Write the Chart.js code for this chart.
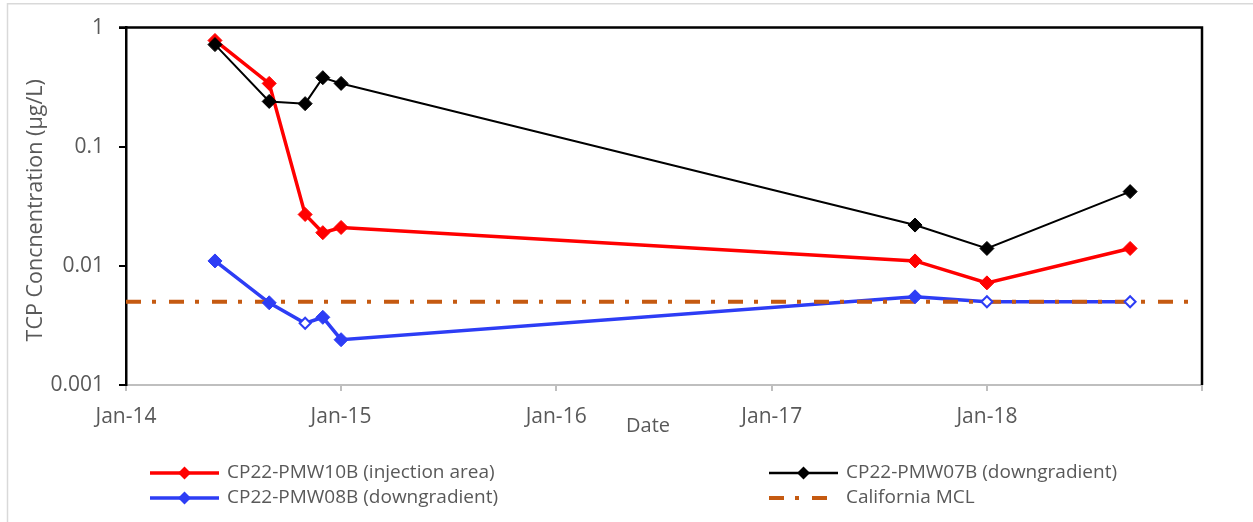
<!DOCTYPE html>
<html>
<head>
<meta charset="utf-8">
<script src="https://cdn.jsdelivr.net/npm/chart.js@4/dist/chart.umd.min.js"></script>
<style>
  html, body { margin: 0; padding: 0; background: #fff; }
  #wrap { position: relative; width: 1253px; height: 522px; }
  canvas { display: block; }
</style>
</head>
<body>
<div id="wrap"><canvas id="c" width="1253" height="522"></canvas></div>
<script>
// ---- Data ----
const sampleDates = ['2014-06-01', '2014-09-01', '2014-11-01', '2014-12-01', '2015-01-01', '2017-09-01', '2018-01-01', '2018-09-01'];
const pmw10b = [0.78, 0.34, 0.027, 0.019, 0.021, 0.011, 0.0072, 0.014];
const pmw07b = [0.72, 0.24, 0.23, 0.38, 0.34, 0.022, 0.014, 0.042];
const pmw08b = [0.011, 0.0049, 0.0033, 0.0037, 0.0024, 0.0055, 0.005, 0.005];
const pmw08bNonDetect = [false, false, true, false, false, false, true, true];
const mclValue = 0.005;
const xTickDates = ['2014-01-01', '2015-01-01', '2016-01-01', '2017-01-01', '2018-01-01', '2019-01-01'];
const xTickLabels = ['Jan-14', 'Jan-15', 'Jan-16', 'Jan-17', 'Jan-18', ''];
const yTickValues = [0.001, 0.01, 0.1, 1];
const yTickLabels = ['0.001', '0.01', '0.1', '1'];
const seriesNames = ['CP22-PMW10B (injection area)', 'CP22-PMW07B (downgradient)', 'CP22-PMW08B (downgradient)', 'California MCL'];
const yTitle = 'TCP Concnentration (µg/L)';
const xTitle = 'Date';

// ---- helpers ----
const toMs = s => Date.parse(s + 'T00:00:00Z');
const pts = vals => sampleDates.map((d, i) => ({ x: toMs(d), y: vals[i] }));
const xMin = toMs(xTickDates[0]);
const xMax = toMs(xTickDates[xTickDates.length - 1]);

const RED = '#FF0000', BLACK = '#000000', BLUE = '#2D3DF5', ORANGE = '#C55A11', GRAY = '#595959';
const FONT = "'Open Sans', 'DejaVu Sans', sans-serif";
const MCL_DASH = [15, 11, 4, 13];

const blueFill = pmw08bNonDetect.map(nd => nd ? '#FFFFFF' : BLUE);
const blueRadius = pmw08bNonDetect.map(nd => nd ? 5.5 : 7);
const blueBorderW = pmw08bNonDetect.map(nd => nd ? 2 : 1);

const decorPlugin = {
  id: 'decor',
  beforeDraw(chart) {
    const ctx = chart.ctx;
    ctx.save();
    ctx.fillStyle = '#fff';
    ctx.fillRect(0, 0, chart.width, chart.height);
    // outer chart frame (light gray)
    ctx.strokeStyle = '#D9D9D9';
    ctx.lineWidth = 1.5;
    ctx.beginPath();
    ctx.moveTo(7.5, chart.height);
    ctx.lineTo(7.5, 3.75);
    ctx.lineTo(chart.width, 3.75);
    ctx.stroke();
    ctx.restore();
  },
  afterDraw(chart) {
    const ctx = chart.ctx;
    const a = chart.chartArea;
    ctx.save();
    // top and right border of plot area
    ctx.strokeStyle = '#000';
    ctx.lineWidth = 2.5;
    ctx.beginPath();
    ctx.moveTo(a.left - 7, a.top);
    ctx.lineTo(a.right, a.top);
    ctx.lineTo(a.right, a.bottom);
    ctx.stroke();

    // axis titles
    ctx.fillStyle = GRAY;
    ctx.font = '20px ' + FONT;
    ctx.textAlign = 'center';
    ctx.textBaseline = 'middle';
    ctx.fillText(xTitle, 648, 426);
    ctx.save();
    ctx.translate(36, (a.top + a.bottom) / 2 + 4);
    ctx.rotate(-Math.PI / 2);
    ctx.font = '21.5px ' + FONT;
    ctx.fillText(yTitle, 0, 0);
    ctx.restore();

    // legend
    const items = [
      { name: seriesNames[0], color: RED, lw: 3.5, marker: true, r: 6.5, x: 150, y: 473 },
      { name: seriesNames[1], color: BLACK, lw: 2.5, marker: true, r: 6.5, x: 769, y: 473 },
      { name: seriesNames[2], color: BLUE, lw: 3.5, marker: true, r: 6.5, x: 150, y: 498 },
      { name: seriesNames[3], color: ORANGE, lw: 4, marker: false, dash: true, x: 769, y: 498 }
    ];
    items.forEach(it => {
      ctx.save();
      ctx.strokeStyle = it.color;
      ctx.lineWidth = it.lw;
      if (it.dash) ctx.setLineDash(MCL_DASH);
      ctx.beginPath();
      ctx.moveTo(it.x, it.y);
      ctx.lineTo(it.x + 69, it.y);
      ctx.stroke();
      ctx.setLineDash([]);
      if (it.marker) {
        const cx = it.x + 34.5;
        ctx.fillStyle = it.color;
        ctx.beginPath();
        ctx.moveTo(cx, it.y - it.r);
        ctx.lineTo(cx + it.r, it.y);
        ctx.lineTo(cx, it.y + it.r);
        ctx.lineTo(cx - it.r, it.y);
        ctx.closePath();
        ctx.fill();
      }
      ctx.fillStyle = GRAY;
      ctx.font = '19px ' + FONT;
      ctx.textAlign = 'left';
      ctx.textBaseline = 'middle';
      ctx.fillText(it.name, it.x + 77, it.y);
      ctx.restore();
    });
    ctx.restore();
  }
};

new Chart(document.getElementById('c'), {
  type: 'line',
  data: {
    datasets: [
      { // blue markers (drawn on top)
        label: seriesNames[2] + ' markers',
        data: pts(pmw08b),
        showLine: false,
        pointStyle: 'rectRot',
        pointRadius: blueRadius,
        pointBackgroundColor: blueFill,
        pointBorderColor: BLUE,
        pointBorderWidth: blueBorderW
      },
      {
        label: seriesNames[3],
        data: [{ x: xMin, y: mclValue }, { x: xMax, y: mclValue }],
        borderColor: ORANGE,
        borderWidth: 4,
        borderDash: MCL_DASH,
        pointRadius: 0
      },
      {
        label: seriesNames[2],
        data: pts(pmw08b),
        borderColor: BLUE,
        borderWidth: 3.5,
        pointRadius: 0
      },
      {
        label: seriesNames[1],
        data: pts(pmw07b),
        borderColor: BLACK,
        borderWidth: 2,
        pointStyle: 'rectRot',
        pointRadius: 7,
        pointBackgroundColor: BLACK,
        pointBorderColor: BLACK,
        pointBorderWidth: 1
      },
      {
        label: seriesNames[0],
        data: pts(pmw10b),
        borderColor: RED,
        borderWidth: 3.5,
        pointStyle: 'rectRot',
        pointRadius: 7,
        pointBackgroundColor: RED,
        pointBorderColor: RED,
        pointBorderWidth: 1
      }
    ]
  },
  options: {
    responsive: false,
    animation: false,
    events: [],
    layout: { padding: { top: 26, right: 51, bottom: 0, left: 0 } },
    plugins: { legend: { display: false }, tooltip: { enabled: false }, title: { display: false } },
    scales: {
      x: {
        type: 'linear',
        min: xMin,
        max: xMax,
        afterBuildTicks(scale) { scale.ticks = xTickDates.map(d => ({ value: toMs(d) })); },
        afterFit(scale) { scale.height = 137; },
        ticks: {
          autoSkip: false,
          maxRotation: 0,
          padding: 13,
          color: GRAY,
          font: { family: FONT, size: 21 },
          callback(v, i) { return xTickLabels[i]; }
        },
        grid: { drawOnChartArea: false, drawTicks: true, tickLength: 6, color: '#BFBFBF', lineWidth: 2 },
        border: { display: true, color: '#BFBFBF', width: 2 }
      },
      y: {
        type: 'logarithmic',
        min: yTickValues[0],
        max: yTickValues[yTickValues.length - 1],
        afterBuildTicks(scale) { scale.ticks = yTickValues.map(v => ({ value: v })); },
        afterFit(scale) { scale.width = 126; },
        ticks: {
          autoSkip: false,
          padding: 15,
          color: GRAY,
          font: { family: FONT, size: 21 },
          callback(v, i) { return yTickLabels[i]; }
        },
        grid: { drawOnChartArea: false, drawTicks: true, tickLength: 7, color: '#000', lineWidth: 2 },
        border: { display: true, color: '#000', width: 2.5 }
      }
    }
  },
  plugins: [decorPlugin]
});
</script>
</body>
</html>
